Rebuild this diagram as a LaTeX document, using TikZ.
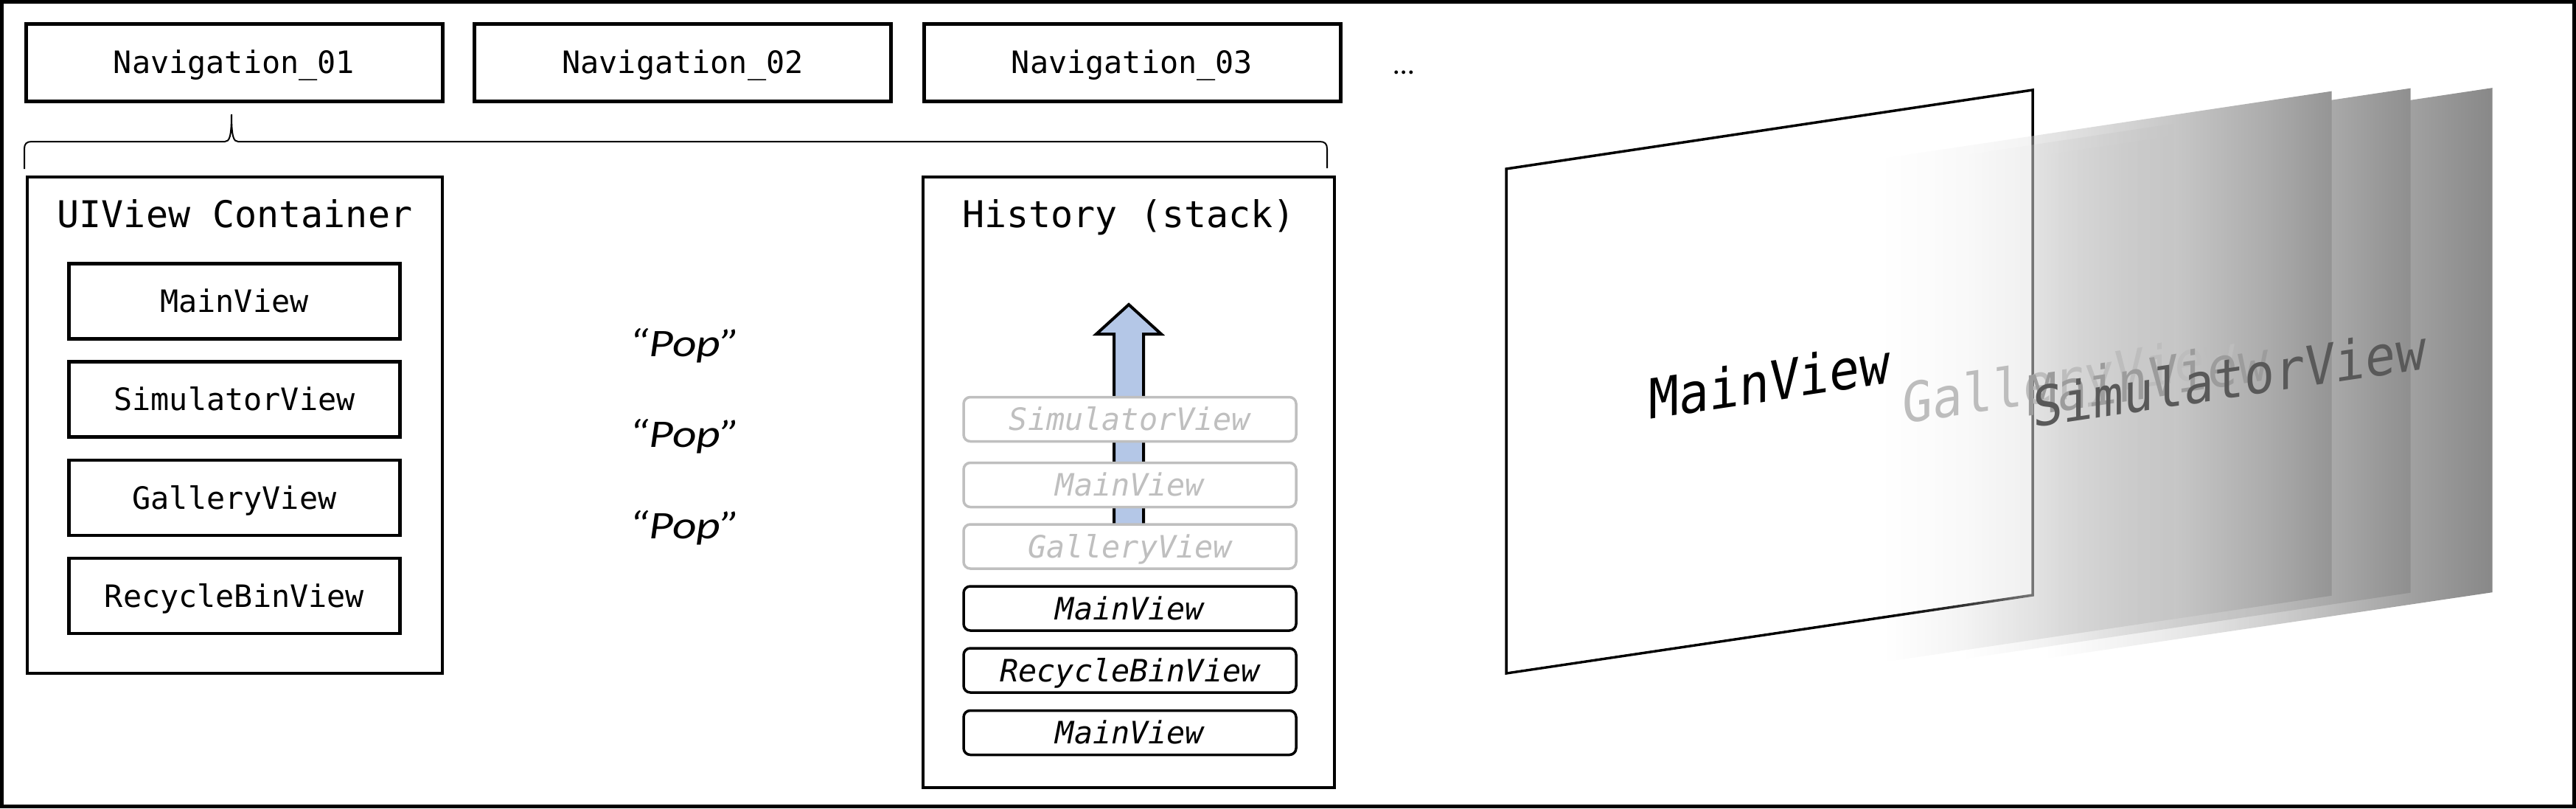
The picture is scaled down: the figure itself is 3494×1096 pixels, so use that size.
\documentclass[tikz,border=0pt]{standalone}
\usepackage{fontspec}
\setmonofont{DejaVu Sans Mono}
\newfontfamily\popfont{Carlito}
\usetikzlibrary{fadings}
\definecolor{arrowblue}{HTML}{B4C7E7}
\definecolor{ghost}{HTML}{BFBFBF}
\definecolor{galtext}{HTML}{BDBDBD}
\definecolor{maintext}{HTML}{9C9C9C}
\definecolor{simtext}{HTML}{595959}
\definecolor{fademid}{gray}{0.45}
\definecolor{pA0}{gray}{0.843}\definecolor{pA1}{gray}{0.804}\definecolor{pA2}{gray}{0.780}\definecolor{pA3}{gray}{0.678}\definecolor{pA4}{gray}{0.584}
\definecolor{pB0}{gray}{0.831}\definecolor{pB1}{gray}{0.788}\definecolor{pB2}{gray}{0.757}\definecolor{pB3}{gray}{0.655}\definecolor{pB4}{gray}{0.561}
\definecolor{pC0}{gray}{0.824}\definecolor{pC1}{gray}{0.776}\definecolor{pC2}{gray}{0.733}\definecolor{pC3}{gray}{0.627}\definecolor{pC4}{gray}{0.533}
\pgfdeclarehorizontalshading{shadeA}{100bp}{color(0bp)=(pA0); color(25bp)=(pA0); color(46.5bp)=(pA1); color(60bp)=(pA2); color(68.5bp)=(pA3); color(75bp)=(pA4); color(100bp)=(pA4)}
\pgfdeclarehorizontalshading{shadeB}{100bp}{color(0bp)=(pB0); color(25bp)=(pB0); color(46.5bp)=(pB1); color(60bp)=(pB2); color(68bp)=(pB3); color(75bp)=(pB4); color(100bp)=(pB4)}
\pgfdeclarehorizontalshading{shadeC}{100bp}{color(0bp)=(pC0); color(25bp)=(pC0); color(46.5bp)=(pC1); color(60bp)=(pC2); color(67.5bp)=(pC3); color(75bp)=(pC4); color(100bp)=(pC4)}
\pgfdeclarehorizontalshading{pfadeshade}{100bp}{color(0bp)=(black); color(32.5bp)=(black); color(46.5bp)=(fademid); color(60bp)=(white); color(100bp)=(white)}
\tikzfading[name=pfade, shading=pfadeshade]
\tikzset{
  boxtext/.style={font=\ttfamily\fontsize{41.8}{50}\selectfont, text height=30.5pt, text depth=0pt},
  navbox/.style={draw, line width=5pt, minimum width=565pt, minimum height=105pt, inner sep=0pt, boxtext},
  viewbox/.style={draw, line width=4.5pt, minimum width=449pt, minimum height=102pt, inner sep=0pt, boxtext},
  bigbox/.style={draw, line width=4.5pt, inner sep=0pt},
  titletext/.style={font=\ttfamily\fontsize{50}{60}\selectfont, text height=36.5pt, text depth=0pt, inner sep=0pt},
  stackbox/.style={draw, fill=white, line width=3.5pt, rounded corners=9pt, minimum width=451pt, minimum height=60pt, inner sep=0pt, font=\ttfamily\itshape\fontsize{41.8}{50}\selectfont, text height=30.5pt, text depth=0pt},
  ghostbox/.style={stackbox, draw=ghost, text=ghost},
  poptext/.style={font=\popfont\itshape\fontsize{53}{60}\selectfont, anchor=base, inner sep=0pt, xscale=1.2},
  paneltext/.style={font=\ttfamily\fontsize{68}{80}\selectfont, anchor=base, inner sep=0pt, yslant=0.15, yscale=1.1},
}
\begin{document}
\begin{tikzpicture}[x=1pt, y=-1pt]
\useasboundingbox (0,0) rectangle (3494,1096);
\draw[line width=5pt] (2.5,2.5) rectangle (3491.5,1093.5);

% navigation tabs
\node[navbox] (nav1) at (317.5,84.5) {Navigation\_01};
\node[navbox] (nav2) at (926,84.5) {Navigation\_02};
\node[navbox] (nav3) at (1535.5,84.5) {Navigation\_03};
\node[font=\popfont\fontsize{40}{48}\selectfont, anchor=base, inner sep=0pt] (dots) at (1904,100) {…};

% brace
\draw[line width=2pt] (33,229) -- (33,202) .. controls (33,195) and (36,192) .. (43,192)
  -- (305,192) .. controls (311,192) and (314,186) .. (314,155)
  .. controls (314,186) and (317,192) .. (323,192)
  -- (1790,192) .. controls (1797,192) and (1800,195) .. (1800,202) -- (1800,228);

% UIView container
\node[bigbox, minimum width=563pt, minimum height=673pt] (cont) at (318.5,576.5) {};
\node[titletext] (conttitle) at (318.5,290) {UIView Container};
\node[viewbox] (v1) at (318,408.5) {MainView};
\node[viewbox] (v2) at (318,541.5) {SimulatorView};
\node[viewbox] (v3) at (318,675) {GalleryView};
\node[viewbox] (v4) at (318,808) {RecycleBinView};

% Pop labels
\node[poptext] (pop1) at (929,483) {“Pop”};
\node[poptext] (pop2) at (929,606) {“Pop”};
\node[poptext] (pop3) at (929,730) {“Pop”};

% History stack
\node[bigbox, minimum width=558pt, minimum height=828pt] (hist) at (1531,654) {};
\node[titletext] (histtitle) at (1531,290) {History (stack)};
\draw[line width=4pt, fill=arrowblue, line join=miter] (1531,413) -- (1575,453) -- (1551,453) -- (1551,740) -- (1511,740) -- (1511,453) -- (1487,453) -- cycle;
\node[ghostbox] (s1) at (1532.5,568.5) {SimulatorView};
\node[ghostbox] (s2) at (1532.5,657.5) {MainView};
\node[ghostbox] (s3) at (1532.5,741) {GalleryView};
\node[stackbox] (s4) at (1532.5,825) {MainView};
\node[stackbox] (s5) at (1532.5,909) {RecycleBinView};
\node[stackbox] (s6) at (1532.5,993.5) {MainView};

% view panels
\draw[line width=3.5pt, line join=miter] (2043,229) -- (2757,122) -- (2757,807) -- (2043,913) -- cycle;
\begin{scope}[shift={(624,-4.5)}]
  \shade[shading=shadeC, path fading=pfade] (2043,229) -- (2757,122) -- (2757,807) -- (2043,913) -- cycle;
\end{scope}
\begin{scope}[shift={(513,-4)}]
  \shade[shading=shadeB, path fading=pfade] (2043,229) -- (2757,122) -- (2757,807) -- (2043,913) -- cycle;
\end{scope}
\begin{scope}[shift={(406,0)}]
  \shade[shading=shadeA, path fading=pfade] (2043,229) -- (2757,122) -- (2757,807) -- (2043,913) -- cycle;
\end{scope}
\fill[white, fill opacity=0.5] (2045,231.5) -- (2755,125) -- (2755,805) -- (2045,911) -- cycle;

\node[paneltext, text=black] (pmain) at (2400,544) {MainView};
\node[paneltext, text=galtext] (pgal) at (2806,541) {GalleryView};
\node[paneltext, text=maintext] (pmain2) at (2913,540) {MainView};
\node[paneltext, text=simtext] (psim) at (3024,540) {SimulatorView};
\end{tikzpicture}
\end{document}
